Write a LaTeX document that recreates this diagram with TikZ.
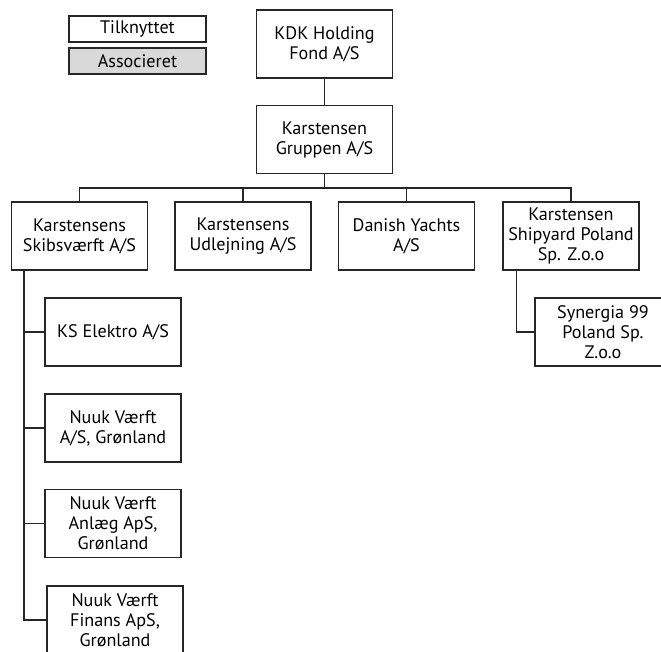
\documentclass[tikz,border=0pt]{standalone}
\usepackage{fontspec}
\setmainfont{PT Sans}
\usetikzlibrary{positioning, calc}
\tikzset{
  link/.style={line width=0.8pt, draw=black!85},
  org/.style={% one company box
    rectangle, draw=black!85, line width=0.8pt, fill=white,
    minimum width=102pt, minimum height=51pt, inner sep=1pt,
    align=center, font=\fontsize{13.6}{15}\selectfont},
  legendbox/.style={% key in the top left corner
    org, minimum width=102.75pt, minimum height=19.5pt},
  assoc/.style={fill=black!15},
}

\begin{document}
\begin{tikzpicture}[x=0.75pt, y=-0.75pt]

  \useasboundingbox (0,0) rectangle (661,651);

  % ----- legend ---------------------------------------------------------------
  \node[legendbox]        (tilk)  at (137.5,29) {Tilknyttet};
  \node[legendbox, assoc] (assc)  at (137.5,61) {Associeret};

  % ----- owners ---------------------------------------------------------------
  \node[org] (kdk)  at (324.5,44)    {KDK Holding\\Fond A/S};
  \node[org] (grp)  at (324.5,139.5) {Karstensen\\Gruppen A/S};

  % ----- subsidiaries -----------------------------------------------------------
  \node[org] (skib) at (79.5,236)  {Karstensens\\Skibsværft A/S};
  \node[org] (udl)  at (243,236)   {Karstensens\\Udlejning A/S};
  \node[org] (dan)  at (406.5,236) {Danish Yachts\\A/S};
  \node[org] (ship) at (571,236)   {Karstensen\\Shipyard Poland\\Sp. Z.o.o};

  % ----- second level -----------------------------------------------------------
  \node[org] (kse)  at (113,332)   {KS Elektro A/S};
  \node[org] (nva)  at (113,428)   {Nuuk Værft\\A/S, Grønland};
  \node[org] (nvan) at (113,523.5) {Nuuk Værft\\Anlæg ApS,\\Grønland};
  \node[org] (nvfi) at (115,620)   {Nuuk Værft\\Finans ApS,\\Grønland};
  \node[org] (syn)  at (603,332)   {Synergia 99\\Poland Sp.\\Z.o.o};

  % ----- connectors -------------------------------------------------------------
  \coordinate (bus)    at (0,188);
  \coordinate (trunk)  at ([xshift=9.75pt]skib.south west);
  \coordinate (strunk) at ([xshift=10.5pt]ship.south west);

  \draw[link] (kdk) -- (grp);
  \draw[link] (grp.south) -- (grp.south |- bus);
  \draw[link] (skib.north) |- (ship.north |- bus) -- (ship.north);
  \draw[link] (udl.north) -- (udl.north |- bus);
  \draw[link] (dan.north) -- (dan.north |- bus);

  \draw[link] (trunk) |- (nvfi.west);
  \draw[link] (kse.west)  -- (kse.west -| trunk);
  \draw[link] (nva.west)  -- (nva.west -| trunk);
  \draw[link] (nvan.west) -- (nvan.west -| trunk);

  \draw[link] (strunk) |- (syn.west);

\end{tikzpicture}
\end{document}
